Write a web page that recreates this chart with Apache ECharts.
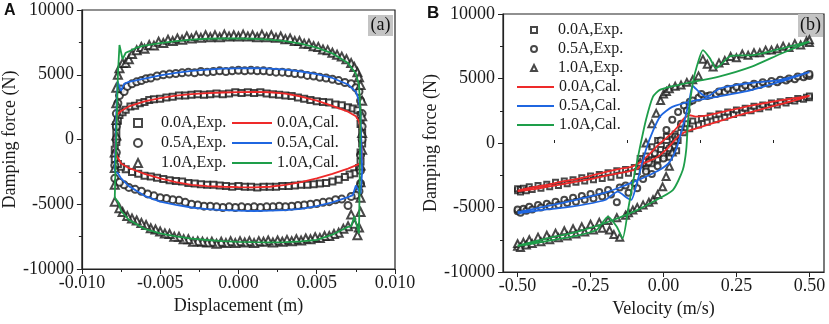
<!DOCTYPE html>
<html>
<head>
<meta charset="utf-8">
<script src="https://cdn.jsdelivr.net/npm/echarts@6/dist/echarts.min.js"></script>
<style>
  html, body { margin: 0; padding: 0; background: #fff; }
  #main { width: 829px; height: 324px; }
</style>
</head>
<body>
<div id="main"></div>
<script>
// names shared by both panels
var expNames = ['0.0A,Exp.', '0.5A,Exp.', '1.0A,Exp.'];
var calNames = ['0.0A,Cal.', '0.5A,Cal.', '1.0A,Cal.'];
var colors = ['#ee2a2a', '#1f66e0', '#1e9e4a'];

var dispTicks = [-0.01, -0.005, 0, 0.005, 0.01];
var velTicks = [-0.5, -0.25, 0, 0.25, 0.5];
var velMinorTicks = [-0.375, -0.125, 0.125, 0.375];

// ---- panel (a): force vs displacement ----
var exp00A = [
  [-0.0079,-1500],[-0.0079,-800],[-0.0078,-200],[-0.0078,500],[-0.0078,1100],[-0.0077,1500],[-0.0076,1900],[-0.0074,2100],
  [-0.0072,2300],[-0.0069,2550],[-0.0066,2600],[-0.0063,2800],[-0.006,2900],[-0.0057,3050],[-0.0054,3100],[-0.005,3150],
  [-0.0046,3250],[-0.0042,3300],[-0.0038,3400],[-0.0034,3400],[-0.003,3450],[-0.0026,3500],[-0.0022,3450],[-0.0018,3500],
  [-0.0014,3550],[-0.001,3500],[-0.0006,3550],[-0.0002,3650],[0.0002,3600],[0.0006,3650],[0.001,3600],[0.0014,3650],
  [0.0018,3550],[0.0022,3500],[0.0026,3450],[0.003,3400],[0.0034,3350],[0.0038,3250],[0.0042,3150],[0.0046,3050],
  [0.005,2950],[0.0054,2900],[0.0058,2850],[0.0062,2700],[0.0066,2650],[0.007,2500],[0.0073,2400],[0.0076,2250],[0.0078,1900],
  [0.0078,1200],[0.0079,500],[0.0079,-300],[0.0078,-1000],[0.0078,-1700],[0.0077,-2200],
  [0.0074,-2600],[0.0071,-2700],[0.0068,-2900],[0.0064,-3100],[0.006,-3250],[0.0056,-3350],[0.0052,-3400],[0.0048,-3450],
  [0.0044,-3500],[0.004,-3500],[0.0036,-3550],[0.0032,-3600],[0.0028,-3600],[0.0024,-3650],[0.002,-3650],[0.0016,-3650],
  [0.0012,-3700],[0.0008,-3650],[0.0004,-3650],[0,-3600],[-0.0004,-3650],[-0.0008,-3600],[-0.0012,-3550],[-0.0016,-3500],
  [-0.002,-3500],[-0.0024,-3450],[-0.0028,-3400],[-0.0032,-3350],[-0.0036,-3250],[-0.004,-3200],[-0.0044,-3150],[-0.0048,-3050],
  [-0.0052,-2950],[-0.0056,-2850],[-0.006,-2800],[-0.0064,-2650],[-0.0068,-2500],[-0.0072,-2300],[-0.0075,-2100],[-0.0077,-1900]
];
var exp05A = [
  [-0.0079,-3000],[-0.0079,-2000],[-0.0078,-1000],[-0.0078,0],[-0.0078,1000],[-0.0078,2000],[-0.0077,2800],[-0.0076,3400],
  [-0.0075,3900],[-0.0073,3700],[-0.0071,4100],
  [-0.0068,4300],[-0.0065,4450],[-0.0062,4550],[-0.0059,4700],[-0.0056,4750],[-0.0052,4900],[-0.0048,5000],[-0.0044,5050],
  [-0.004,5100],[-0.0036,5150],[-0.0032,5200],[-0.0028,5150],[-0.0024,5250],[-0.002,5200],[-0.0016,5250],[-0.0012,5300],
  [-0.0008,5250],[-0.0004,5300],[0,5350],[0.0004,5300],[0.0008,5350],[0.0012,5300],[0.0016,5300],[0.002,5250],[0.0024,5200],
  [0.0028,5200],[0.0032,5150],[0.0036,5100],[0.004,5050],[0.0044,4950],[0.0048,4900],[0.0052,4800],[0.0056,4750],[0.006,4650],
  [0.0064,4550],[0.0068,4400],[0.0072,4300],[0.0075,4000],[0.0077,3700],
  [0.0078,3000],[0.0079,2000],[0.0079,1000],[0.0079,0],[0.0078,-1200],[0.0078,-2400],[0.0078,-3400],[0.0077,-4000],[0.0075,-4300],
  [0.0072,-4400],[0.007,-5100],[0.0066,-4600],[0.0062,-4650],[0.0058,-4800],[0.0054,-4850],[0.005,-4950],[0.0046,-5000],
  [0.0042,-5050],[0.0038,-5100],[0.0034,-5150],[0.003,-5200],[0.0026,-5150],[0.0022,-5200],[0.0018,-5200],[0.0014,-5250],
  [0.001,-5200],[0.0006,-5250],[0.0002,-5200],[-0.0002,-5250],[-0.0006,-5200],[-0.001,-5250],[-0.0014,-5200],[-0.0018,-5150],
  [-0.0022,-5150],[-0.0026,-5050],[-0.003,-5000],[-0.0034,-4850],[-0.0038,-4700],[-0.0042,-4650],[-0.0046,-4550],[-0.005,-4500],
  [-0.0054,-4350],[-0.0058,-4200],[-0.0062,-4000],[-0.0066,-3850],[-0.007,-3700],[-0.0073,-3500],[-0.0076,-3300]
];
var exp10A = [
  [-0.0079,-4800],[-0.0079,-3500],[-0.0079,-2200],[-0.0079,-1000],[-0.0078,300],[-0.0078,1500],[-0.0078,2800],[-0.0078,4000],
  [-0.0077,5000],[-0.0076,5500],[-0.0074,5900],[-0.0072,5900],[-0.007,6200],[-0.0068,6600],
  [-0.0065,6900],[-0.0062,7150],[-0.006,7000],[-0.0057,7300],[-0.0054,7250],[-0.0051,7550],[-0.0048,7450],[-0.0045,7700],
  [-0.0042,7600],[-0.0039,7800],[-0.0036,7700],[-0.0033,7950],[-0.003,7800],[-0.0027,8000],[-0.0024,7850],[-0.0021,8050],
  [-0.0018,7900],[-0.0015,8050],[-0.0012,7900],[-0.0009,8100],[-0.0006,7950],[-0.0003,8050],[0,7950],[0.0003,8100],
  [0.0006,7950],[0.0009,8050],[0.0012,7900],[0.0015,8100],[0.0018,7900],[0.0021,8050],[0.0024,7850],[0.0027,7950],
  [0.003,7750],[0.0033,7800],[0.0036,7600],[0.0039,7600],[0.0042,7400],[0.0045,7400],[0.0048,7200],[0.0051,7150],
  [0.0054,6950],[0.0057,6900],[0.006,6700],[0.0063,6550],[0.0066,6400],[0.0069,6200],[0.0072,5900],[0.0074,5600],
  [0.0076,5200],[0.0077,4800],
  [0.0078,4200],[0.0079,3000],[0.0079,1800],[0.0079,500],[0.0079,-800],[0.0078,-2000],[0.0078,-3300],[0.0078,-4500],
  [0.0078,-5600],[0.0077,-6800],[0.0076,-7400],[0.0074,-6500],[0.0072,-5800],[0.007,-6700],
  [0.0067,-6900],[0.0064,-7200],[0.0061,-7300],[0.0058,-7450],[0.0055,-7450],[0.0052,-7600],[0.0049,-7550],[0.0046,-7700],
  [0.0043,-7650],[0.004,-7800],[0.0037,-7700],[0.0034,-7850],[0.0031,-7750],[0.0028,-7900],[0.0025,-7800],[0.0022,-7950],
  [0.0019,-7800],[0.0016,-7900],[0.0013,-7850],[0.001,-8000],[0.0007,-7850],[0.0004,-7950],[0.0001,-7850],[-0.0002,-8000],
  [-0.0005,-7850],[-0.0008,-8000],[-0.0011,-7900],[-0.0014,-8050],[-0.0017,-7900],[-0.002,-7950],[-0.0023,-7900],
  [-0.0026,-7850],[-0.0029,-7900],[-0.0032,-7700],[-0.0035,-7700],[-0.0038,-7500],[-0.0041,-7500],[-0.0044,-7300],
  [-0.0047,-7250],[-0.005,-7100],[-0.0053,-6950],[-0.0056,-6850],[-0.0059,-6600],[-0.0062,-6450],[-0.0065,-6250],
  [-0.0068,-6100],[-0.0071,-5900],[-0.0074,-5600],[-0.0076,-5300]
];
var cal00A = [
  [-0.0079,-1000],[-0.0078,1500],[-0.00775,1900],[-0.0075,2200],[-0.007,2550],[-0.006,2950],[-0.005,3200],[-0.004,3380],
  [-0.003,3500],[-0.002,3580],[-0.001,3630],[0,3660],[0.001,3680],[0.002,3650],[0.003,3550],[0.004,3320],[0.005,3000],
  [0.006,2600],[0.007,2150],[0.0075,1800],[0.0077,1400],[0.0078,800],[0.0079,-1500],[0.0078,-1850],[0.0075,-2000],
  [0.007,-2250],[0.006,-2650],[0.005,-3000],[0.004,-3300],[0.003,-3500],[0.002,-3650],[0.001,-3700],[0,-3680],
  [-0.001,-3650],[-0.002,-3600],[-0.003,-3500],[-0.004,-3300],[-0.005,-3000],[-0.006,-2650],[-0.007,-2200],
  [-0.0075,-1850],[-0.0077,-1400],[-0.0079,-1000]
];
var cal05A = [
  [-0.0079,-2500],[-0.0078,2000],[-0.00772,4500],[-0.0075,3750],[-0.0073,4300],[-0.007,4450],[-0.006,4700],[-0.005,4950],
  [-0.004,5150],[-0.003,5300],[-0.002,5400],[-0.001,5470],[0,5500],[0.001,5510],[0.002,5480],[0.003,5400],[0.004,5250],
  [0.005,5050],[0.006,4750],[0.007,4250],[0.0075,3700],[0.0077,3000],[0.0078,2000],[0.0079,-2500],[0.0078,-4200],
  [0.0077,-4000],[0.0075,-3550],[0.0073,-4300],[0.007,-4450],[0.006,-4850],[0.005,-5150],[0.004,-5350],[0.003,-5450],
  [0.002,-5500],[0.001,-5520],[0,-5500],[-0.001,-5450],[-0.002,-5380],[-0.003,-5250],[-0.004,-5050],[-0.005,-4800],
  [-0.006,-4350],[-0.007,-3600],[-0.0075,-3000],[-0.0077,-2600],[-0.0079,-2500]
];
var cal10A = [
  [-0.0079,-4500],[-0.0077,5000],[-0.0076,7300],[-0.0074,6200],[-0.0072,6700],[-0.007,6800],[-0.0065,7100],[-0.006,7250],
  [-0.005,7450],[-0.004,7600],[-0.003,7720],[-0.002,7780],[-0.001,7800],[0,7800],[0.001,7780],[0.002,7720],[0.003,7600],
  [0.004,7400],[0.005,7100],[0.006,6650],[0.007,5900],[0.0075,5100],[0.0077,4200],[0.0078,2000],[0.0077,-7250],
  [0.0076,-7250],[0.0074,-5950],[0.0072,-6700],[0.007,-6750],[0.0065,-7050],[0.006,-7350],[0.005,-7750],[0.004,-7870],
  [0.003,-7930],[0.002,-7950],[0.001,-7930],[0,-7900],[-0.001,-7850],[-0.002,-7760],[-0.003,-7650],[-0.004,-7480],
  [-0.005,-7250],[-0.006,-6900],[-0.007,-6200],[-0.0075,-5500],[-0.0077,-4800],[-0.0079,-4500]
];

// ---- panel (b): force vs velocity ----
var exp00B = [
  [-0.5,-3700],[-0.5,-3550],[-0.49,-3800],[-0.49,-3600],[-0.48,-3500],[-0.47,-3700],[-0.46,-3400],[-0.45,-3600],
  [-0.43,-3300],[-0.42,-3500],[-0.4,-3200],[-0.39,-3400],[-0.37,-3050],[-0.36,-3300],[-0.34,-2950],[-0.33,-3150],
  [-0.31,-2850],[-0.3,-3050],[-0.28,-2700],[-0.27,-2950],[-0.25,-2550],[-0.24,-2850],[-0.22,-2450],[-0.21,-2750],
  [-0.19,-2300],[-0.18,-2650],[-0.16,-2150],[-0.15,-2500],[-0.13,-2050],[-0.12,-2350],[-0.1,-1900],[-0.09,-2200],
  [-0.07,-1700],[-0.06,-2000],[-0.05,-1300],[-0.04,-1600],[-0.03,-900],[-0.02,-1300],[-0.01,-500],[0,-1000],
  [0.01,-200],[0.02,-600],[0.03,300],[0.035,-300],[0.04,700],[0.05,200],[0.06,1200],[0.07,800],[0.08,1500],
  [0.09,1100],[0.1,1700],[0.12,1400],[0.13,1900],[0.15,1600],[0.16,2100],[0.18,1800],[0.19,2250],[0.21,2000],
  [0.22,2400],[0.24,2200],[0.25,2550],[0.27,2350],[0.28,2700],[0.3,2500],[0.31,2850],[0.33,2650],[0.34,2950],
  [0.36,2800],[0.37,3100],[0.39,2950],[0.4,3200],[0.42,3100],[0.43,3300],[0.45,3250],[0.46,3450],[0.48,3400],
  [0.49,3550],[0.5,3500],[0.5,3650],
  [-0.04,-300],[-0.02,200],[0.01,500],[-0.06,-1000],[0.02,-1100],[-0.08,-1200],[0.045,-600]
];
var exp05B = [
  [-0.5,-5300],[-0.5,-5150],[-0.49,-5400],[-0.48,-5100],[-0.47,-5250],[-0.46,-4950],[-0.45,-5150],[-0.43,-4800],
  [-0.42,-5000],[-0.4,-4700],[-0.39,-4900],[-0.37,-4550],[-0.36,-4800],[-0.34,-4400],[-0.33,-4650],[-0.31,-4250],
  [-0.3,-4550],[-0.28,-4100],[-0.27,-4400],[-0.25,-3950],[-0.24,-4300],[-0.22,-3800],[-0.21,-4150],[-0.19,-3650],
  [-0.18,-4000],[-0.16,-4600],[-0.15,-3450],[-0.13,-3300],[-0.12,-3850],[-0.1,-3100],[-0.09,-3500],[-0.07,-2800],
  [-0.06,-2200],[-0.05,-1500],[-0.04,-2400],[-0.03,-800],[-0.02,-1800],[-0.01,200],[0,-1200],[0.01,1000],[0.02,-400],
  [0.03,1800],[0.04,500],[0.05,2400],[0.06,1500],[0.07,2900],[0.08,2500],[0.09,3200],[0.1,3300],[0.12,3500],
  [0.13,3800],[0.15,3650],[0.16,3700],[0.18,3800],[0.19,4000],[0.21,3950],[0.22,4200],[0.24,4100],[0.25,4350],
  [0.27,4250],[0.28,4450],[0.3,4350],[0.31,4600],[0.33,4500],[0.34,4700],[0.36,4600],[0.37,4800],[0.39,4700],
  [0.4,4900],[0.42,4850],[0.43,5000],[0.45,4950],[0.46,5150],[0.48,5100],[0.49,5250],[0.5,5200],[0.5,5350]
];
var exp10B = [
  [-0.5,-8000],[-0.5,-7800],[-0.49,-8100],[-0.48,-7700],[-0.47,-7900],[-0.46,-7500],[-0.45,-7800],[-0.43,-7300],
  [-0.42,-7650],[-0.4,-7150],[-0.39,-7500],[-0.37,-7000],[-0.36,-7350],[-0.34,-6800],[-0.33,-7200],[-0.31,-6650],
  [-0.3,-7050],[-0.28,-6500],[-0.27,-6900],[-0.25,-6300],[-0.24,-6750],[-0.22,-6150],[-0.21,-6600],[-0.19,-6000],
  [-0.185,-6750],[-0.17,-7100],[-0.16,-5800],[-0.15,-7300],[-0.13,-5600],[-0.12,-5400],[-0.105,-5200],[-0.09,-5000],
  [-0.07,-4800],[-0.05,-4600],[-0.036,-4400],[-0.02,-4000],[-0.003,-3400],[0.009,-2600],[0.02,-1800],[0.03,-700],
  [0.04,300],[-0.08,-1500],[-0.06,0],[-0.04,1500],[-0.025,2300],[-0.01,3300],[0,3800],[0.01,4000],[0.02,4200],
  [0.04,4400],[0.06,4500],[0.08,4700],[0.1,4900],[0.12,5200],[0.135,6500],[0.15,6100],[0.17,5900],[0.19,6200],
  [0.21,6400],[0.23,6700],[0.25,6600],[0.27,6900],[0.29,6800],[0.31,7000],[0.33,7000],[0.35,7200],[0.37,7200],
  [0.39,7300],[0.41,7500],[0.43,7400],[0.45,7700],[0.47,7600],[0.49,7900],[0.5,7800],[0.5,8000]
];
var cal00B = [
  [-0.5,-3700],[-0.45,-3450],[-0.4,-3250],[-0.35,-3000],[-0.3,-2800],[-0.25,-2550],[-0.2,-2250],[-0.15,-2000],
  [-0.11,-1850],[-0.08,-1500],[-0.05,-900],[-0.02,-200],[0.01,400],[0.03,800],[0.05,1300],[0.07,1900],[0.09,2150],
  [0.11,2050],[0.14,2100],[0.2,2400],[0.25,2650],[0.3,2900],[0.35,3100],[0.4,3300],[0.45,3480],[0.5,3650],
  [0.45,3300],[0.4,3000],[0.35,2700],[0.3,2400],[0.25,2100],[0.2,1750],[0.15,1400],[0.1,1050],[0.07,800],
  [0.05,500],[0.03,0],[0.01,-500],[-0.01,-900],[-0.03,-1200],[-0.05,-1400],[-0.07,-1600],[-0.09,-2000],
  [-0.12,-2200],[-0.2,-2550],[-0.25,-2800],[-0.3,-3000],[-0.35,-3200],[-0.4,-3400],[-0.45,-3600],[-0.5,-3750]
];
var cal05B = [
  [-0.5,-5450],[-0.4,-5150],[-0.316,-4940],[-0.2,-4420],[-0.157,-3770],[-0.123,-4290],[-0.11,-4400],[-0.09,-3000],
  [-0.06,-500],[-0.035,1000],[-0.01,2100],[0.03,2800],[0.1,3250],[0.2,3650],[0.3,4100],[0.4,4750],[0.5,5500],
  [0.4,4900],[0.3,4650],[0.25,4500],[0.19,4200],[0.16,3700],[0.145,3600],[0.12,4000],[0.1,4420],[0.09,3500],
  [0.075,2000],[0.06,800],[0.045,-400],[0.02,-1500],[-0.014,-2100],[-0.05,-2500],[-0.1,-3000],[-0.145,-3400],
  [-0.2,-3850],[-0.3,-4400],[-0.4,-4900],[-0.5,-5350]
];
var cal10B = [
  [-0.5,-8000],[-0.4,-7600],[-0.3,-7200],[-0.23,-6750],[-0.19,-5700],[-0.16,-6500],[-0.14,-7400],[-0.12,-5000],
  [-0.105,-3100],[-0.085,-800],[-0.06,1800],[-0.036,3600],[-0.014,4100],[0.03,4400],[0.08,4650],[0.19,5150],
  [0.3,5900],[0.4,6900],[0.5,7850],
  [0.4,7300],[0.3,6800],[0.26,6800],[0.226,6700],[0.18,5800],[0.158,6600],[0.135,7200],[0.115,6000],[0.1,4600],
  [0.085,2000],[0.078,-500],[0.066,-2100],[0.032,-3650],[-0.036,-4550],[-0.1,-5300],[-0.2,-6200],[-0.3,-6900],
  [-0.4,-7400],[-0.5,-7950]
];

var serif = 'Liberation Serif';
var ink = '#1a1a1a';

function xAxisBase(grid) {
  return {
    gridIndex: grid,
    type: 'value',
    nameLocation: 'middle',
    nameTextStyle: { fontFamily: serif, fontSize: 18, color: ink },
    axisLine: { onZero: false, lineStyle: { color: '#222', width: 1.2 } },
    axisTick: { length: 5, lineStyle: { color: '#222' } },
    axisLabel: { fontFamily: serif, fontSize: 18, color: ink, margin: 5 },
    splitLine: { show: false }
  };
}
function yAxisBase(grid) {
  return {
    gridIndex: grid,
    type: 'value',
    min: -10000,
    max: 10000,
    interval: 5000,
    name: 'Damping force (N)',
    nameLocation: 'middle',
    nameGap: 55,
    nameTextStyle: { fontFamily: serif, fontSize: 18, color: ink },
    axisLine: { onZero: false, lineStyle: { color: '#222', width: 1.2 } },
    axisTick: { length: 5, lineStyle: { color: '#222' } },
    minorTick: { show: true, splitNumber: 2, length: 3, lineStyle: { color: '#222' } },
    axisLabel: { fontFamily: serif, fontSize: 18, color: ink, margin: 8,
      formatter: function (v) { return String(v); } },
    splitLine: { show: false }
  };
}

var xA = xAxisBase(0);
xA.min = -0.01; xA.max = 0.01; xA.interval = 0.005;
xA.name = 'Displacement (m)'; xA.nameGap = 27;
xA.minorTick = { show: true, splitNumber: 2, length: 3, lineStyle: { color: '#222' } };
xA.axisLabel.formatter = function (v) { return v.toFixed(3); };

var xB = xAxisBase(1);
xB.min = -0.55; xB.max = 0.55;
xB.name = 'Velocity (m/s)'; xB.nameGap = 28;
xB.axisLabel.customValues = velTicks;
xB.axisTick.customValues = velTicks;
xB.axisLabel.formatter = function (v) { return v.toFixed(2); };

// second bottom axis on panel (b) only for the small ticks between labels
var xBminor = xAxisBase(1);
xBminor.min = -0.55; xBminor.max = 0.55;
xBminor.axisLine = { show: false };
xBminor.axisLabel = { show: false };
xBminor.axisTick = { show: true, length: 3, customValues: velMinorTicks, lineStyle: { color: '#222' } };

var series = [];
var expA = [exp00A, exp05A, exp10A], calA = [cal00A, cal05A, cal10A];
var expB = [exp00B, exp05B, exp10B], calB = [cal00B, cal05B, cal10B];
var symbols = ['emptyRect', 'emptyCircle', 'emptyTriangle'];
var sizesA = [6, 7, 8], sizesB = [5, 6, 7];

for (var i = 0; i < 3; i++) {
  series.push({
    name: expNames[i], type: 'scatter', xAxisIndex: 0, yAxisIndex: 0,
    symbol: symbols[i], symbolSize: sizesA[i], data: expA[i],
    itemStyle: { color: ink, borderWidth: 1 }, z: 2
  });
  series.push({
    name: expNames[i], type: 'scatter', xAxisIndex: 1, yAxisIndex: 1,
    symbol: symbols[i], symbolSize: sizesB[i], data: expB[i],
    itemStyle: { color: ink, borderWidth: 1 }, z: 2
  });
}
for (var j = 0; j < 3; j++) {
  series.push({
    name: calNames[j], type: 'line', xAxisIndex: 0, yAxisIndex: 0,
    symbol: 'none', data: calA[j], color: colors[j],
    lineStyle: { width: 1.8, color: colors[j] }, z: 3
  });
  series.push({
    name: calNames[j], type: 'line', xAxisIndex: 1, yAxisIndex: 1,
    symbol: 'none', data: calB[j], color: colors[j], smooth: 0.2,
    lineStyle: { width: 1.8, color: colors[j] }, z: 3
  });
}

function legendText(padLeft) {
  return { fontFamily: serif, fontSize: 16, color: ink, padding: [0, 0, 0, padLeft] };
}
function calItems() {
  return calNames.map(function (n) { return { name: n, icon: 'rect' }; });
}

var chart = echarts.init(document.getElementById('main'));
var option = {
  animation: false,
  backgroundColor: '#fff',
  grid: [
    { left: 72, top: 10, width: 323, height: 259, show: true, borderColor: '#222', borderWidth: 1.2 },
    { left: 503, top: 14, width: 321, height: 258, show: true, borderColor: '#222', borderWidth: 1.2 }
  ],
  xAxis: [xA, xB, xBminor],
  yAxis: [yAxisBase(0), yAxisBase(1)],
  legend: [
    { data: expNames, orient: 'vertical', left: 133, top: 115, itemWidth: 8, itemHeight: 8, itemGap: 4,
      padding: 0, textStyle: legendText(14), selectedMode: false },
    { data: calItems(), orient: 'vertical', left: 232, top: 115, itemWidth: 40, itemHeight: 2, itemGap: 4,
      padding: 0, textStyle: legendText(0), selectedMode: false },
    { data: expNames, orient: 'vertical', left: 530, top: 22, itemWidth: 6, itemHeight: 6, itemGap: 3,
      padding: 0, textStyle: legendText(16), selectedMode: false },
    { data: calItems(), orient: 'vertical', left: 517, top: 79, itemWidth: 37, itemHeight: 2, itemGap: 3,
      padding: 0, textStyle: legendText(0), selectedMode: false }
  ],
  graphic: [
    { type: 'text', left: 4, top: 3, style: { text: 'A', font: 'bold 16px "Liberation Sans"', fill: '#111' } },
    { type: 'text', left: 427, top: 5, style: { text: 'B', font: 'bold 17px "Liberation Sans"', fill: '#111' } },
    { type: 'group', left: 368, top: 15, children: [
      { type: 'rect', shape: { x: 0, y: 0, width: 25, height: 21 }, style: { fill: '#c4c4c4' } },
      { type: 'text', x: 12.5, y: 10.5, style: { text: '(a)', font: '18px "Liberation Serif"', fill: '#111', align: 'center', verticalAlign: 'middle' } }
    ] },
    { type: 'group', left: 798, top: 14, children: [
      { type: 'rect', shape: { x: 0, y: 0, width: 25, height: 23 }, style: { fill: '#c4c4c4' } },
      { type: 'text', x: 12.5, y: 11.5, style: { text: '(b)', font: '18px "Liberation Serif"', fill: '#111', align: 'center', verticalAlign: 'middle' } }
    ] }
  ],
  series: series
};
chart.setOption(option);
</script>
</body>
</html>
